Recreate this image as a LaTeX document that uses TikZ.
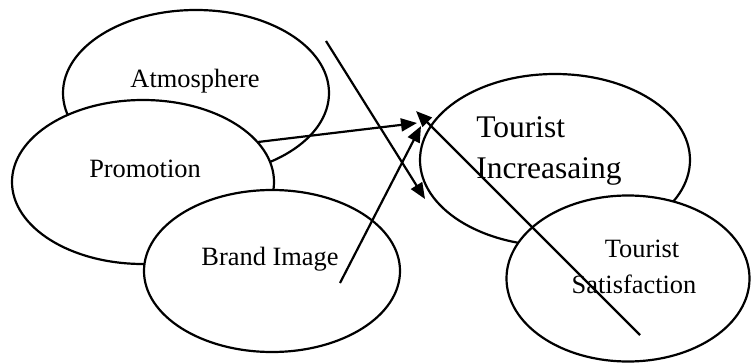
\documentclass[tikz,border=0pt]{standalone}
\usepackage{fontspec}
\setmainfont{Liberation Serif}
\usetikzlibrary{shapes.geometric,arrows.meta}
\tikzset{
  bubble/.style={ellipse, draw, fill=white, line width=1.1pt, inner sep=0pt},
  lbl/.style={anchor=base, inner sep=0pt, font=\fontsize{13.2}{15}\selectfont},
  biglbl/.style={anchor=base west, inner sep=0pt, font=\fontsize{15.75}{18}\selectfont},
  link/.style={line width=1.1pt, -{Triangle[length=8pt,width=6.5pt]}}
}
\begin{document}
\begin{tikzpicture}[x=0.5pt,y=-0.5pt]
\useasboundingbox (0,0) rectangle (751,364);

% factor bubbles, later ones cover earlier ones
\node[bubble, minimum width=133pt, minimum height=83pt] (atm) at (196,93) {};
\node[bubble, minimum width=131pt, minimum height=82pt] (promo) at (143,182) {};
\node[bubble, minimum width=128pt, minimum height=81pt] (brand) at (272,271) {};
\node[bubble, minimum width=135pt, minimum height=86pt] (incr) at (555,160) {};
\node[bubble, minimum width=121.5pt, minimum height=83pt] (satis) at (628,278.5) {};

% labels
\node[lbl] (tatm) at (195,87) {Atmosphere};
\node[lbl] (tpromo) at (145,177) {Promotion};
\node[lbl] (tbrand) at (270,265) {Brand Image};
\node[biglbl] (tincr1) at (476,137) {Tourist};
\node[biglbl] (tincr2) at (476,178) {Increasaing};
\node[lbl] (tsat1) at (642,257) {Tourist};
\node[lbl] (tsat2) at (634,293) {Satisfaction};

% connector ends
\coordinate (a1) at (326,41);
\coordinate (a2) at (425,199);
\coordinate (p1) at (258,142);
\coordinate (p2) at (417,123);
\coordinate (b1) at (340,283);
\coordinate (b2) at (421,126);
\coordinate (s1) at (640,335);
\coordinate (s2) at (416,111);

\draw[link] (a1) -- (a2);
\draw[link] (p1) -- (p2);
\draw[link] (b1) -- (b2);
\draw[link] (s1) -- (s2);
\end{tikzpicture}
\end{document}
